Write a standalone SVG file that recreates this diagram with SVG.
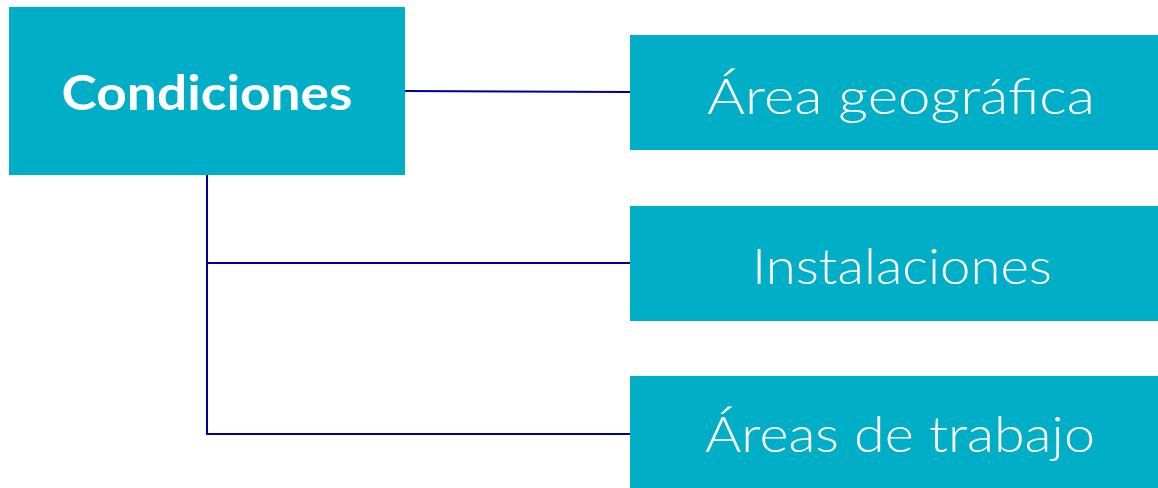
<svg xmlns="http://www.w3.org/2000/svg" width="1158" height="488" viewBox="0 0 1158 488">
<style>
.box{fill:#00AEC7}
.t{fill:#FFFFFF;font-family:Lato,"Noto Sans","Liberation Sans",sans-serif;font-size:50px;font-weight:300;text-anchor:middle}
.tb{fill:#FFFFFF;font-family:Lato,"Noto Sans","Liberation Sans",sans-serif;font-size:48px;font-weight:700;text-anchor:middle}
.c{stroke:#000099;stroke-width:2;fill:none}
</style>
<rect width="1158" height="488" fill="#FFFFFF"/>
<g id="connectors">
<line class="c" x1="405" y1="91" x2="630" y2="92"/>
<polyline class="c" points="207,175 207,434 630,434"/>
<line class="c" x1="207" y1="263" x2="630" y2="263"/>
</g>
<g id="condiciones">
<rect class="box" x="9" y="7" width="396" height="168"/>
<text class="tb" x="207" y="110" textLength="291" lengthAdjust="spacingAndGlyphs">Condiciones</text>
</g>
<g id="area-geografica">
<rect class="box" x="630" y="35" width="528" height="115"/>
<text class="t" x="901" y="114" textLength="388" lengthAdjust="spacingAndGlyphs">Área geográfica</text>
</g>
<g id="instalaciones">
<rect class="box" x="630" y="206" width="528" height="115"/>
<text class="t" x="902" y="284" textLength="300" lengthAdjust="spacingAndGlyphs">Instalaciones</text>
</g>
<g id="areas-trabajo">
<rect class="box" x="630" y="376" width="528" height="115"/>
<text class="t" x="900" y="452" textLength="390" lengthAdjust="spacingAndGlyphs">Áreas de trabajo</text>
</g>
</svg>
